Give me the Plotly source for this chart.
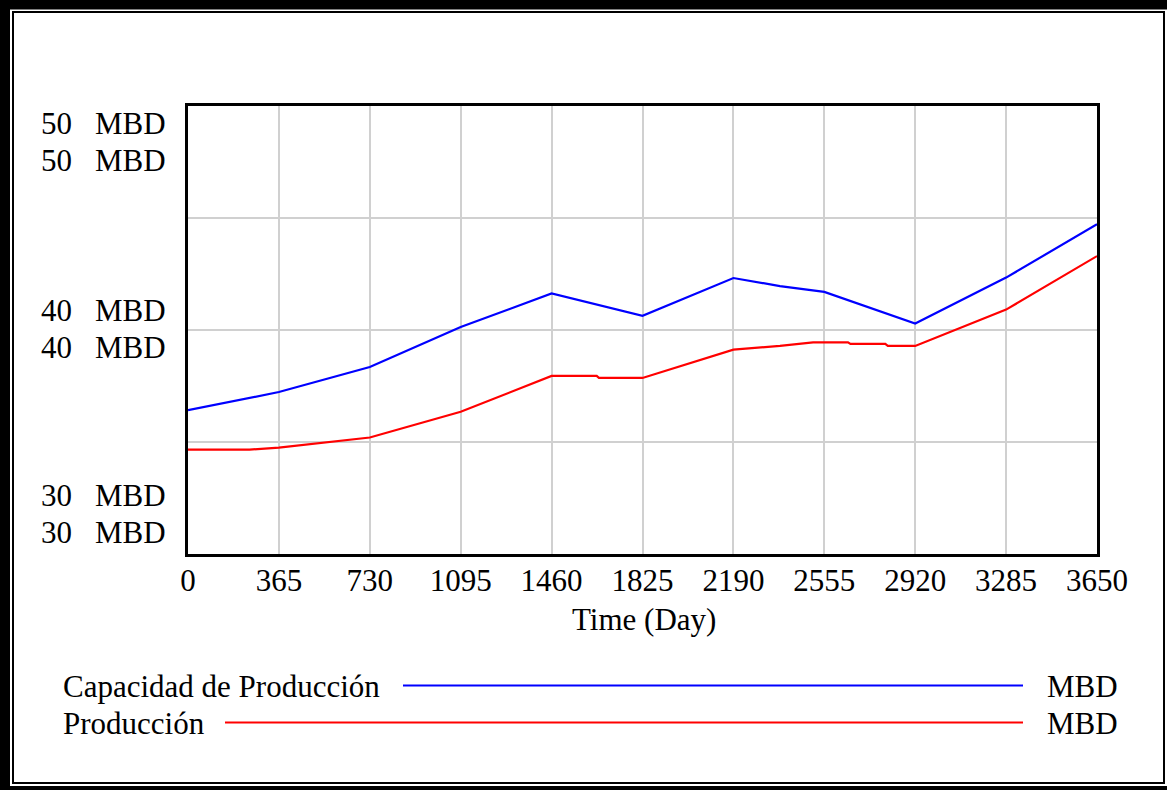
import plotly.graph_objects as go

# values (time in days, MBD)
cap_days = [0, 365, 730, 1095, 1460, 1825, 2190, 2377, 2555, 2920, 3285, 3650]
cap_mbd = [36.42, 37.23, 38.35, 40.13, 41.63, 40.63, 42.32, 41.96, 41.70, 40.29, 42.34, 44.72]

prod_days = [0, 247, 365, 730, 1095, 1460, 1641, 1650, 1825, 2190, 2377, 2510, 2650, 2660, 2800, 2810, 2920, 3285, 3650]
prod_mbd = [34.66, 34.66, 34.75, 35.20, 36.35, 37.95, 37.95, 37.86, 37.86, 39.12, 39.29, 39.45, 39.45, 39.38, 39.38, 39.29, 39.29, 40.91, 43.30]

x_ticks = [0, 365, 730, 1095, 1460, 1825, 2190, 2555, 2920, 3285, 3650]
y_tick_labels = ["50", "50", "40", "40", "30", "30"]
unit = "MBD"
series_names = ["Capacidad de Producción", "Producción"]
series_colors = ["#0000ff", "#ff0000"]

W, H = 1167, 790
L, R, T, B = 188, 70, 106, 236
FONT = "Liberation Serif, Times New Roman, serif"


def px(x):
    return (x - L) / (W - L - R)


def py(y):
    return (H - B - y) / (H - T - B)


fig = go.Figure()
fig.add_trace(go.Scatter(x=cap_days, y=cap_mbd, mode="lines",
                         line=dict(color=series_colors[0], width=2.2), name=series_names[0]))
fig.add_trace(go.Scatter(x=prod_days, y=prod_mbd, mode="lines",
                         line=dict(color=series_colors[1], width=2.2), name=series_names[1]))

annotations = []
# vensim style stacked y labels
label_y = [125, 161.7, 311.7, 348.3, 496.7, 533.3]
for lab, yy in zip(y_tick_labels, label_y):
    annotations.append(dict(x=px(39), y=py(yy - 1), xref="paper", yref="paper", text=lab,
                            showarrow=False, xanchor="left", yanchor="middle"))
    annotations.append(dict(x=px(93), y=py(yy - 1), xref="paper", yref="paper", text=unit,
                            showarrow=False, xanchor="left", yanchor="middle"))

annotations.append(dict(x=px(644), y=py(619), xref="paper", yref="paper", text="Time (Day)",
                        showarrow=False, xanchor="center", yanchor="middle"))

# legend rows
shapes = []
leg_y = [687, 724]
line_start = [403, 225]
for name, col, yy, x0 in zip(series_names, series_colors, leg_y, line_start):
    annotations.append(dict(x=px(61), y=py(yy - 1), xref="paper", yref="paper", text=name,
                            showarrow=False, xanchor="left", yanchor="middle"))
    annotations.append(dict(x=px(1045), y=py(yy - 1), xref="paper", yref="paper", text=unit,
                            showarrow=False, xanchor="left", yanchor="middle"))
    shapes.append(dict(type="line", xref="paper", yref="paper", x0=px(x0), x1=px(1023),
                       y0=py(yy - 1.5), y1=py(yy - 1.5), line=dict(color=col, width=2.2)))

# outer double frame
shapes.append(dict(type="rect", xref="paper", yref="paper", x0=px(5), x1=px(1173),
                   y0=py(4.5), y1=py(791), line=dict(color="black", width=10)))
shapes.append(dict(type="rect", xref="paper", yref="paper", x0=px(13), x1=px(1164),
                   y0=py(12), y1=py(783), line=dict(color="black", width=2)))

fig.update_layout(
    width=W, height=H,
    margin=dict(l=L, r=R, t=T, b=B),
    paper_bgcolor="white", plot_bgcolor="white",
    font=dict(family=FONT, size=31, color="black"),
    showlegend=False,
    annotations=annotations,
    shapes=shapes,
)
fig.update_xaxes(range=[0, 3650], tickvals=x_ticks, showgrid=True, gridcolor="#d0d0d0", gridwidth=1.5,
                 showline=True, mirror=True, linecolor="black", linewidth=3, ticks="",
                 ticklabelstandoff=-3, zeroline=False)
fig.update_yaxes(range=[30, 50], dtick=5, showgrid=True, gridcolor="#d0d0d0", gridwidth=1.5,
                 showline=True, mirror=True, linecolor="black", linewidth=3, ticks="",
                 showticklabels=False, zeroline=False)

fig.write_html("out.html", config={"displayModeBar": False},
               post_script="document.body.style.margin='0';")
